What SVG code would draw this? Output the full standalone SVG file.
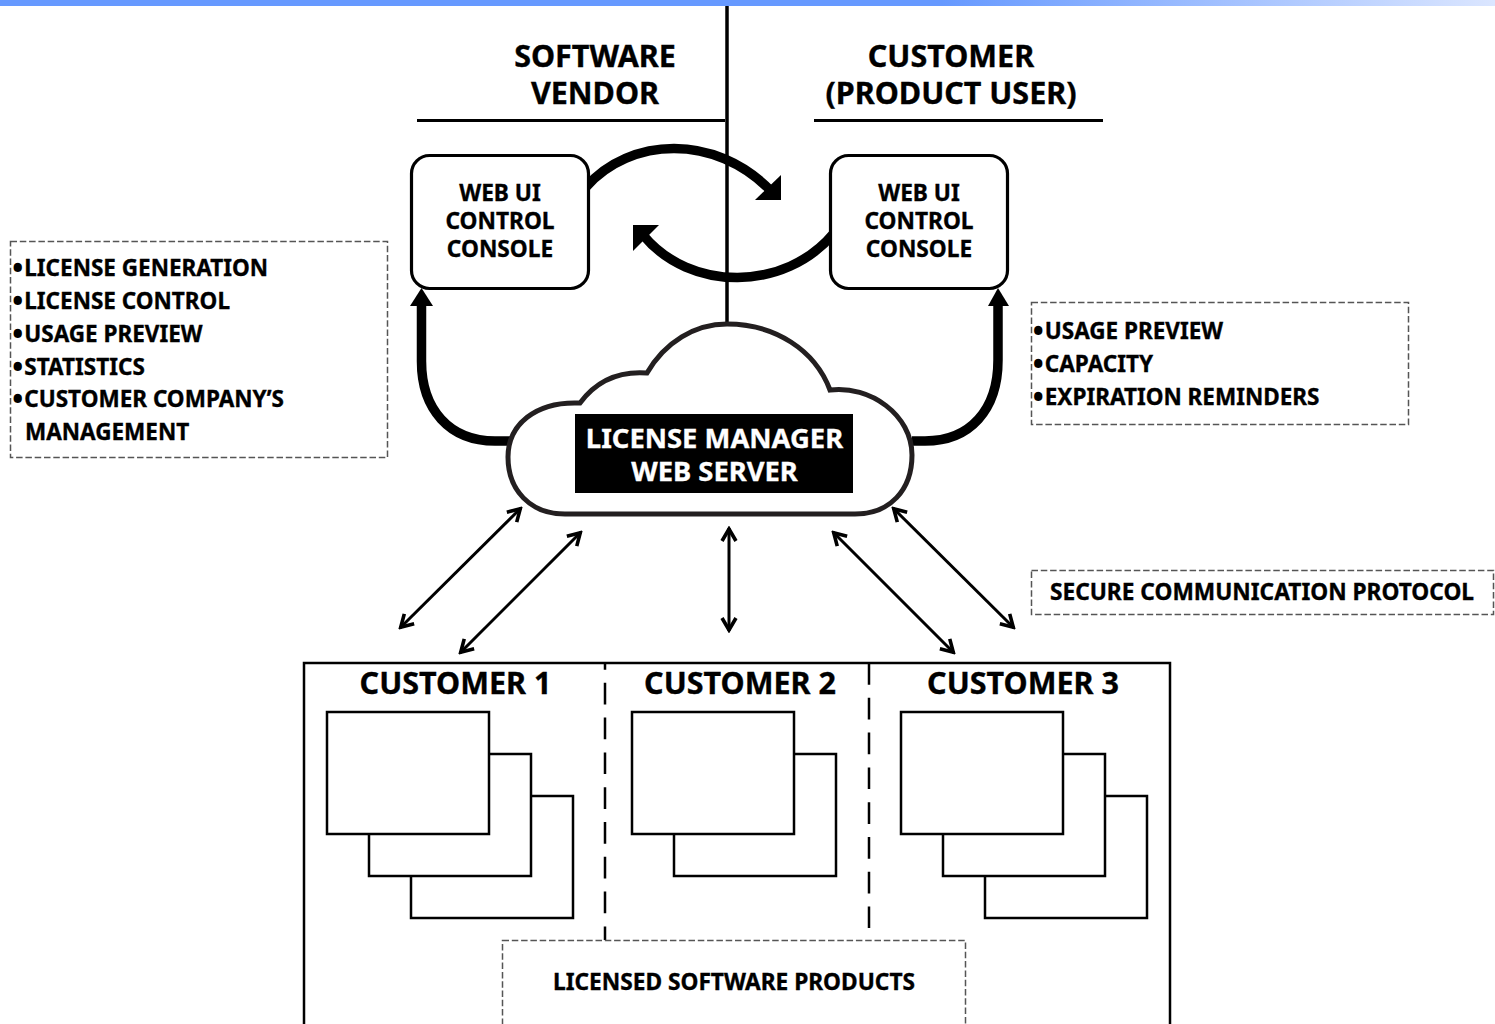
<svg xmlns="http://www.w3.org/2000/svg" width="1495" height="1024" viewBox="0 0 1495 1024">
<style>
text{font-family:"Noto Sans","Open Sans","Liberation Sans",sans-serif;font-weight:700;fill:#000;stroke:#000;stroke-width:.35}
.h{font-size:30.500px;text-anchor:middle}
.c{font-size:22.700px;text-anchor:middle}
.l{font-size:22.500px}
.b{stroke-width:2}
.t{stroke-width:.35}
.m{font-size:27.400px;text-anchor:middle;fill:#fff;stroke:#fff}
.dash{fill:#fff;stroke:#555;stroke-width:1.500;stroke-dasharray:6.500 2.800}
.pg{fill:#fff;stroke:#000;stroke-width:2.500}
.thick{fill:none;stroke:#000;stroke-width:9.500}
.thin{fill:none;stroke:#000;stroke-width:3;marker-start:url(#o);marker-end:url(#o)}
.div{fill:none;stroke:#000;stroke-width:2.500;stroke-dasharray:21.700 13.100}
</style>
<defs>
<linearGradient id="bar" x1="0" x2="1" y1="0" y2="0"><stop offset="0.63" stop-color="#6699ff"/><stop offset="1" stop-color="#dbe6ff"/></linearGradient>
<marker id="o" viewBox="-16 -9 18 18" markerUnits="userSpaceOnUse" markerWidth="18" markerHeight="18" refX="0" refY="0" orient="auto-start-reverse"><path d="M-13,-7 L-1,0 L-13,7" fill="none" stroke="#000" stroke-width="3.600"/></marker>
</defs>
<rect id="topbar" x="0" y="0" width="1495" height="6" fill="url(#bar)"/>
<g id="connectors">
<path d="M727,6V325" fill="none" stroke="#000" stroke-width="3.500"/>
<path d="M417,120.500H725M814,120.500H1103" fill="none" stroke="#000" stroke-width="3"/>
<path class="thick" d="M586,187C630,137 715,133 771,191"/>
<path d="M781,200V175L755,200Z" fill="#000"/>
<path class="thick" d="M834,233C785,292 690,292 643,235"/>
<path d="M633,225H659L633,251Z" fill="#000"/>
<path class="thick" d="M512,441H495C450,441 421,410 421.500,360V302"/>
<path d="M421.500,288L433,306H410Z" fill="#000"/>
<path class="thick" d="M912,441H925C970,441 998,410 998,360V302"/>
<path d="M998,288L1009,306H988Z" fill="#000"/>
<path class="thin" d="M400,628L521,508"/>
<path class="thin" d="M460,653L581,532"/>
<path class="thin" d="M729,631V528"/>
<path class="thin" d="M954,653L833,532"/>
<path class="thin" d="M1014,628L893,508"/>
</g>
<g id="software-vendor"><text class="h" x="595" y="67">SOFTWARE</text><text class="h" x="595" y="104">VENDOR</text></g>
<g id="customer-user"><text class="h" x="951" y="67">CUSTOMER</text><text class="h" x="951" y="104">(PRODUCT USER)</text></g>
<g id="console-vendor"><rect x="411.500" y="155.500" width="177" height="133" rx="18" fill="#fff" stroke="#000" stroke-width="3.200"/><text class="c" x="500" y="201">WEB UI</text><text class="c" x="500" y="229">CONTROL</text><text class="c" x="500" y="257">CONSOLE</text></g>
<g id="console-customer"><rect x="830.500" y="155.500" width="177" height="133" rx="18" fill="#fff" stroke="#000" stroke-width="3.200"/><text class="c" x="919" y="201">WEB UI</text><text class="c" x="919" y="229">CONTROL</text><text class="c" x="919" y="257">CONSOLE</text></g>
<g id="vendor-notes"><rect class="dash" x="10.500" y="241.500" width="377" height="216"/>
<text class="l" x="13.500" y="276"><tspan class="b">•</tspan><tspan class="t" dx="2.300">LICENSE GENERATION</tspan></text>
<text class="l" x="13.500" y="309"><tspan class="b">•</tspan><tspan class="t" dx="2.300">LICENSE CONTROL</tspan></text>
<text class="l" x="13.500" y="342"><tspan class="b">•</tspan><tspan class="t" dx="2.300">USAGE PREVIEW</tspan></text>
<text class="l" x="13.500" y="375"><tspan class="b">•</tspan><tspan class="t" dx="2.300">STATISTICS</tspan></text>
<text class="l" x="13.500" y="407"><tspan class="b">•</tspan><tspan class="t" dx="2.300">CUSTOMER COMPANY’S</tspan></text>
<text class="l" x="25" y="440">MANAGEMENT</text></g>
<g id="customer-notes"><rect class="dash" x="1031.500" y="302.500" width="377" height="122"/>
<text class="l" x="1034" y="339"><tspan class="b">•</tspan><tspan class="t" dx="2.300">USAGE PREVIEW</tspan></text>
<text class="l" x="1034" y="372"><tspan class="b">•</tspan><tspan class="t" dx="2.300">CAPACITY</tspan></text>
<text class="l" x="1034" y="405"><tspan class="b">•</tspan><tspan class="t" dx="2.300">EXPIRATION REMINDERS</tspan></text></g>
<g id="cloud"><path d="M565,514C530,514 508,490 508,457C508,425 535,401 580,403C597,380 620,371 647,373C665,342 695,324 727,324C775,324 815,350 830,390C870,385 912,415 912,455C912,490 890,514 855,514Z" fill="#fff" stroke="#231f20" stroke-width="5"/>
<rect x="575" y="414" width="278" height="79" fill="#000"/>
<text class="m" x="714.500" y="447.500">LICENSE MANAGER</text><text class="m" x="714.500" y="481">WEB SERVER</text></g>
<g id="protocol-note"><rect class="dash" x="1031.500" y="570.500" width="462" height="44"/><text class="c" x="1262" y="599.500">SECURE COMMUNICATION PROTOCOL</text></g>
<g id="customers"><rect x="304" y="663" width="866" height="380" fill="#fff" stroke="#000" stroke-width="2.500"/>
<path class="div" stroke-dashoffset="15" d="M605,663V940"/><path class="div" d="M869,663V928"/>
<text class="h" x="455.500" y="694">CUSTOMER 1</text><text class="h" x="740" y="694">CUSTOMER 2</text><text class="h" x="1023" y="694">CUSTOMER 3</text></g>
<g id="customer1-products"><rect class="pg" x="411" y="796" width="162" height="122"/><rect class="pg" x="369" y="754" width="162" height="122"/><rect class="pg" x="327" y="712" width="162" height="122"/></g>
<g id="customer2-products"><rect class="pg" x="674" y="754" width="162" height="122"/><rect class="pg" x="632" y="712" width="162" height="122"/></g>
<g id="customer3-products"><rect class="pg" x="985" y="796" width="162" height="122"/><rect class="pg" x="943" y="754" width="162" height="122"/><rect class="pg" x="901" y="712" width="162" height="122"/></g>
<g id="licensed-products"><rect class="dash" x="502.500" y="940.500" width="463" height="100"/><text class="c" x="734" y="989.500">LICENSED SOFTWARE PRODUCTS</text></g>
</svg>
